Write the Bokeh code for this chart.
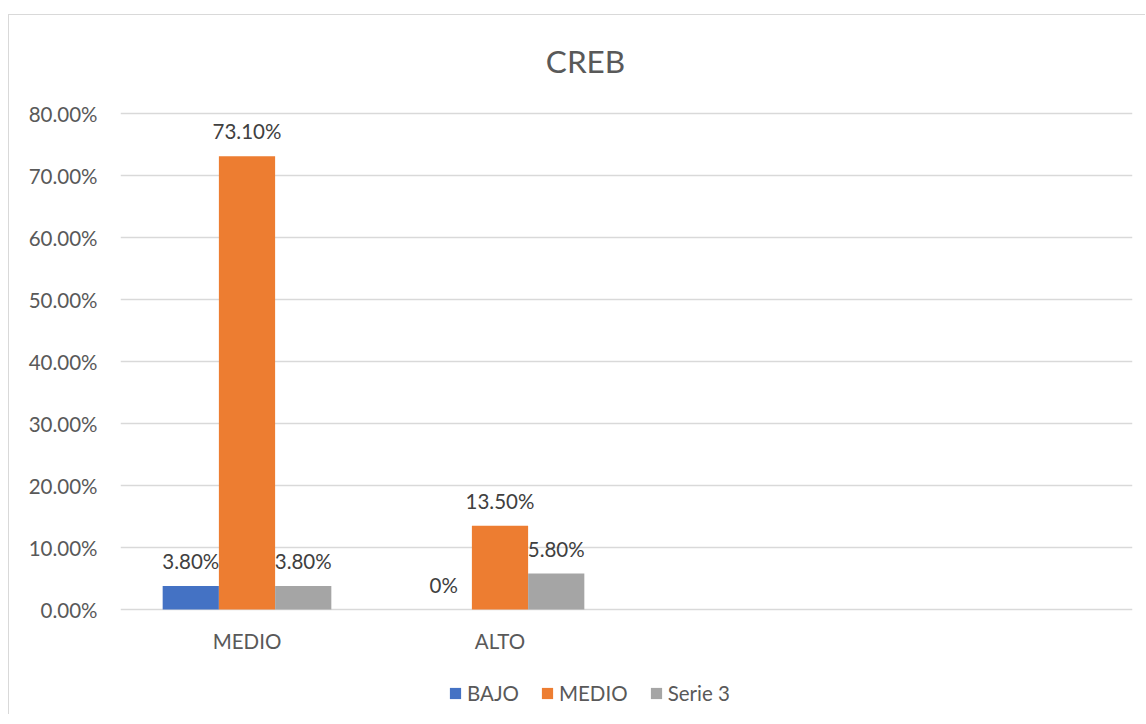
from bokeh.plotting import figure
from bokeh.models import Range1d, FixedTicker, Legend, LegendItem, ColumnDataSource, LabelSet, Label
from bokeh.embed import file_html
from bokeh.resources import INLINE
from bokeh.core.properties import value

# ---- data ----
categories = ["MEDIO", "ALTO", "", ""]
series_names = ["BAJO", "MEDIO", "Serie 3"]
bajo = [0.038, 0.0]
medio = [0.731, 0.135]
serie3 = [0.038, 0.058]
bajo_labels = ["3.80%", "0%"]
medio_labels = ["73.10%", "13.50%"]
serie3_labels = ["3.80%", "5.80%"]
y_ticks = [0.0, 0.1, 0.2, 0.3, 0.4, 0.5, 0.6, 0.7, 0.8]
y_tick_labels = ["0.00%", "10.00%", "20.00%", "30.00%", "40.00%", "50.00%", "60.00%", "70.00%", "80.00%"]
colors = ["#4472C4", "#ED7D31", "#A5A5A5"]

FONT = "Lato"
TXT = "#595959"
FS = "20.5px"

# layout (pixels): figure content starts at (9, 15) because of the css border/margin
FIG_TOP = 15
FIG_H = 700
FRAME_TOP, FRAME_BOTTOM = FIG_TOP, 712
Y0_PX, Y80_PX = 609, 113
px_per_unit = (Y0_PX - Y80_PX) / 0.8
y_start = -(FRAME_BOTTOM - Y0_PX) / px_per_unit
y_end = 0.8 + (Y80_PX - FRAME_TOP) / px_per_unit

p = figure(width=1137, height=FIG_H, output_backend="svg", toolbar_location=None,
           x_range=Range1d(0, len(categories)), y_range=Range1d(y_start, y_end),
           min_border_left=111, min_border_right=14, min_border_top=0,
           min_border_bottom=FIG_H - (FRAME_BOTTOM - FIG_TOP))
p.styles = {"margin-top": "14px", "margin-left": "8px",
            "border-left": "1px solid #D9D9D9", "border-top": "1px solid #D9D9D9"}

p.outline_line_color = None
p.xgrid.grid_line_color = None
p.ygrid.grid_line_color = "#D9D9D9"
p.ygrid.grid_line_width = 1.3
p.ygrid.ticker = FixedTicker(ticks=y_ticks)

p.yaxis.ticker = FixedTicker(ticks=y_ticks)
p.yaxis.major_label_overrides = {t: l for t, l in zip(y_ticks, y_tick_labels)}
p.yaxis.axis_line_color = None
p.yaxis.major_tick_line_color = None
p.yaxis.minor_tick_line_color = None
p.yaxis.major_tick_out = 0
p.yaxis.major_tick_in = 0
p.yaxis.major_label_standoff = 23
p.yaxis.major_label_text_font = FONT
p.yaxis.major_label_text_font_size = FS
p.yaxis.major_label_text_color = TXT
p.xaxis.visible = False

cat_centers = [i + 0.5 for i in range(len(categories))]

# category labels under the baseline
cat_src = ColumnDataSource(dict(x=cat_centers, y=[0.0] * len(categories), lab=categories))
p.add_layout(LabelSet(x="x", y="y", text="lab", source=cat_src, text_align="center",
                      text_baseline="middle", y_offset=-31, text_font=value(FONT),
                      text_font_size=value(FS), text_color=value(TXT)))

bw = 1.0 / 4.5
offsets = [-bw, 0.0, bw]
all_vals = [bajo, medio, serie3]
all_labels = [bajo_labels, medio_labels, serie3_labels]
renderers = []
for k, (vals, labs) in enumerate(zip(all_vals, all_labels)):
    xs = [cat_centers[i] + offsets[k] for i in range(len(vals))]
    src = ColumnDataSource(dict(x=xs, top=vals, lab=labs))
    r = p.vbar(x="x", top="top", bottom=0, width=bw, source=src,
               fill_color=colors[k], line_color=None)
    renderers.append(r)
    p.add_layout(LabelSet(x="x", y="top", text="lab", source=src, text_align="center",
                          text_baseline="bottom", y_offset=13, text_font=value(FONT),
                          text_font_size=value(FS), text_color=value("#404040")))

# title
p.add_layout(Label(x=(585 - 120) / 253.0, y=0.8 + (Y80_PX - 60) / px_per_unit, text="CREB",
                   text_align="center", text_baseline="middle", text_font=FONT,
                   text_font_size="31.5px", text_color=TXT))

legend = Legend(items=[LegendItem(label=n, renderers=[r]) for n, r in zip(series_names, renderers)],
                orientation="horizontal", location=(328, 7))
legend.label_text_font = FONT
legend.label_text_font_size = FS
legend.label_text_color = TXT
legend.glyph_width = 14
legend.glyph_height = 14
legend.label_standoff = 5
legend.spacing = 21
legend.border_line_color = None
legend.background_fill_alpha = 0
legend.margin = 0
legend.padding = 5
p.add_layout(legend, "center")

open("out.html", "w").write(file_html(p, INLINE))
